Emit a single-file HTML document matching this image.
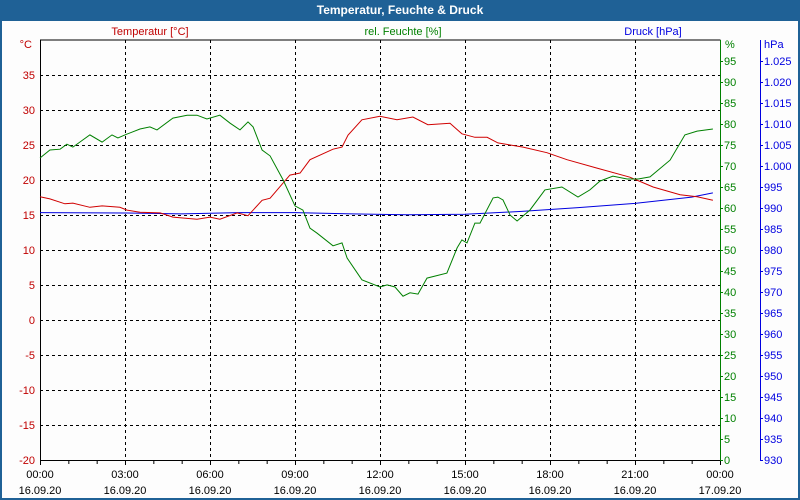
<!DOCTYPE html>
<html><head><meta charset="utf-8"><style>
html,body{margin:0;padding:0;background:#fff}
#wrap{position:relative;width:800px;height:500px;box-sizing:border-box;border:2px solid #1f6196;border-top:none;background:#fdfdfd;font-family:"Liberation Sans",sans-serif}
#title{position:absolute;left:-2px;top:0;width:800px;height:21px;background:#1f6196;color:#fff;font-weight:bold;font-size:12px;text-align:center;line-height:20px}
svg{position:absolute;left:-2px;top:0}
svg text{font-family:"Liberation Sans",sans-serif;font-size:11px}
</style></head><body>
<div id="wrap">
<div id="title">Temperatur, Feuchte &amp; Druck</div>
<svg id="chart" width="800" height="500"></svg>
</div>
<script>
const tempHours=[0,0.35,0.88,1.16,1.76,2.19,2.82,3.07,3.53,4.24,4.69,5.54,6.0,6.35,6.96,7.34,7.84,8.12,8.82,9.18,9.53,10.34,10.66,10.87,11.36,12.0,12.6,13.16,13.69,14.47,14.89,15.35,15.78,16.16,17.05,17.89,18.6,19.66,20.82,21.64,22.59,23.19,23.75];
const tempValues=[17.6,17.3,16.6,16.7,16.1,16.3,16.1,15.7,15.4,15.3,14.7,14.4,14.7,14.4,15.3,14.9,17.1,17.4,20.7,21.0,22.9,24.4,24.7,26.4,28.6,29.1,28.6,29.0,27.9,28.1,26.6,26.1,26.1,25.3,24.7,23.9,22.9,21.7,20.4,19.0,17.9,17.6,17.1];
const humHours=[0,0.35,0.71,0.95,1.16,1.76,2.19,2.54,2.75,3.07,3.53,3.88,4.13,4.69,5.19,5.54,5.89,6.35,6.71,7.06,7.34,7.52,7.84,8.12,8.58,9.0,9.28,9.53,9.78,10.34,10.66,10.84,11.36,12.0,12.25,12.53,12.81,13.06,13.34,13.66,14.36,14.72,14.89,15.07,15.35,15.53,15.99,16.16,16.34,16.59,16.84,17.29,17.82,18.42,18.99,19.41,19.76,20.22,20.72,21.11,21.53,22.24,22.76,23.19,23.75];
const humValues=[71.9,73.8,74.0,75.2,74.5,77.4,75.7,77.4,76.7,77.6,78.8,79.3,78.6,81.4,82.1,82.1,81.2,82.1,80.2,78.6,80.5,79.3,73.8,72.4,66.7,60.5,59.5,55.2,54.0,51.0,51.7,48.1,42.9,41.2,41.7,41.2,39.0,39.8,39.5,43.3,44.5,50.5,52.4,51.7,56.4,56.4,62.4,62.6,61.9,58.3,56.9,59.5,64.3,65.0,62.6,64.3,66.4,67.6,66.9,66.9,67.4,71.4,77.4,78.3,78.8];
const presHours=[0,3,5,7,9,11,13,15,17,19,21,23,23.75];
const presValues=[988.9,988.8,988.6,988.9,988.9,988.6,988.4,988.5,989.2,990.1,991.1,992.6,993.6];
const tempTicks=[35,30,25,20,15,10,5,0,-5,-10,-15,-20];
const humTicks=[95,90,85,80,75,70,65,60,55,50,45,40,35,30,25,20,15,10,5,0];
const presTicks=[1025,1020,1015,1010,1005,1000,995,990,985,980,975,970,965,960,955,950,945,940,935,930];
const timeLabels=["00:00","03:00","06:00","09:00","12:00","15:00","18:00","21:00","00:00"];
const dateLabels=["16.09.20","16.09.20","16.09.20","16.09.20","16.09.20","16.09.20","16.09.20","16.09.20","17.09.20"];

const L=40,R=720,T=40,B=460;
const xS=h=>L+h*(R-L)/24;
const yT=v=>T+(40-v)*(B-T)/60;
const yH=v=>B-v*(B-T)/100;
const yP=v=>B-(v-930)*(B-T)/100;
const svg=document.getElementById('chart');
const NS='http://www.w3.org/2000/svg';
function mk(tag,attrs){const e=document.createElementNS(NS,tag);for(const k in attrs)e.setAttribute(k,attrs[k]);svg.appendChild(e);return e;}
function txt(x,y,s,fill,anchor){const e=mk('text',{x:x,y:y,fill:fill,'text-anchor':anchor});e.textContent=s;return e;}

tempTicks.forEach(v=>{if(v>-20){const g=mk('line',{x1:L,x2:R,y1:yT(v)+0.5,y2:yT(v)+0.5,stroke:'#000','stroke-dasharray':'3,3'});

}
const t=txt(35,yT(v)+4,String(v),'#c00000','end');

});
for(let i=1;i<8;i++){const g=mk('line',{x1:xS(i*3)+0.5,x2:xS(i*3)+0.5,y1:T,y2:B,stroke:'#000','stroke-dasharray':'3,3'});

}
const ax=mk('path',{d:`M${R+0.5},${T} L${L+0.5},${T} L${L+0.5},${B+0.5} L${R},${B+0.5}`,stroke:'#000',fill:'none'});


for(let h=0;h<=24;h++){const tk=mk('line',{x1:xS(h)+0.5,x2:xS(h)+0.5,y1:B,y2:B+(h%3?4:5),stroke:'#000'});

}
timeLabels.forEach((s,i)=>{const t=txt(xS(i*3),478,s,'#000','middle');


const d=txt(xS(i*3),494,dateLabels[i],'#000','middle');

});
const ha=mk('line',{x1:R+0.5,x2:R+0.5,y1:T,y2:B+1,stroke:'#008000'});


humTicks.forEach(v=>{const tk=mk('line',{x1:R,x2:R+3,y1:yH(v)+0.5,y2:yH(v)+0.5,stroke:'#008000'});


const t=txt(724,yH(v)+4,String(v),'#008000','start');

});
const pa=mk('line',{x1:760.5,x2:760.5,y1:T,y2:B+1,stroke:'#0000e0'});


presTicks.forEach(v=>{const tk=mk('line',{x1:760,x2:763,y1:yP(v)+0.5,y2:yP(v)+0.5,stroke:'#0000e0'});


const t=txt(764,yP(v)+4,v.toLocaleString('de-DE').replace(',','.'),'#0000e0','start');

});
[[32,48,'°C','#c00000','end','temp-unit'],[725,48,'%','#008000','start','humidity-unit'],[764,48,'hPa','#0000e0','start','pressure-unit'],
 [150,35,'Temperatur [°C]','#c00000','middle','legend-temperature'],[403,35,'rel. Feuchte [%]','#008000','middle','legend-humidity'],[653,35,'Druck [hPa]','#0000e0','middle','legend-pressure']].forEach(a=>{
 const t=txt(a[0],a[1],a[2],a[3],a[4]);
 
 });
function line(hs,vs,yf,color,name){const d=hs.map((h,i)=>(i?'L':'M')+xS(h).toFixed(1)+','+yf(vs[i]).toFixed(1)).join(' ');
const p=mk('path',{d:d,stroke:color,fill:'none','stroke-width':1});

}
line(presHours,presValues,yP,'#0000e0','pressure-line');
line(tempHours,tempValues,yT,'#d00000','temperature-line');
line(humHours,humValues,yH,'#008000','humidity-line');
</script>
</body></html>
